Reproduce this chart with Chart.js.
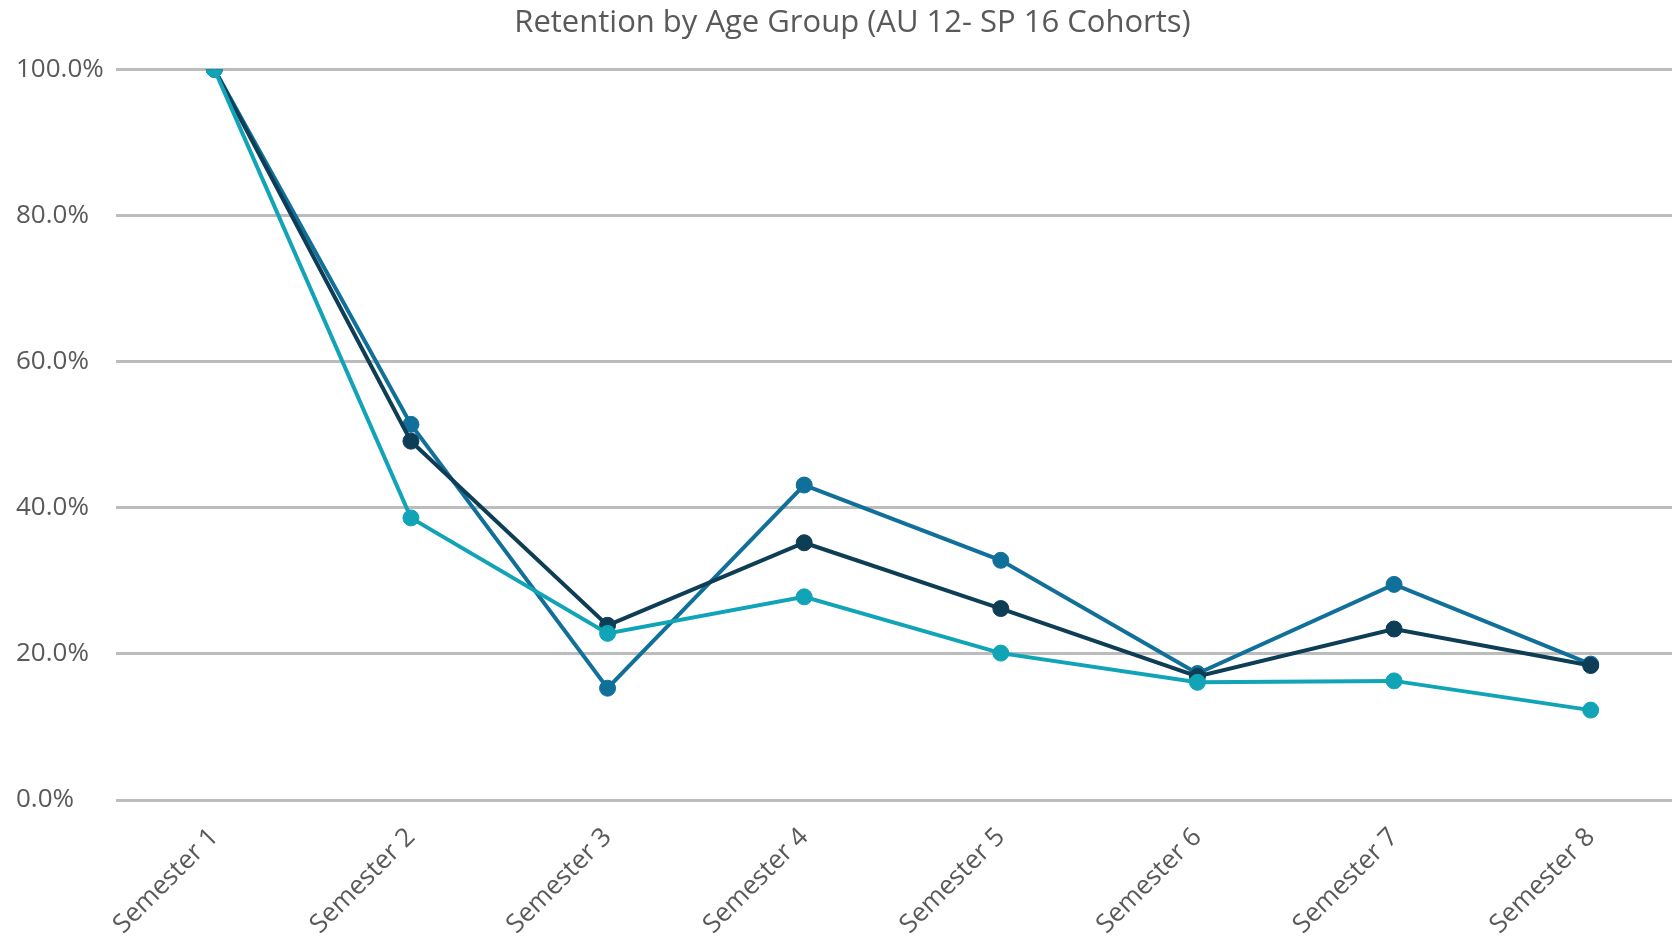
<!DOCTYPE html>
<html>
<head>
<meta charset="utf-8">
<script src="https://cdn.jsdelivr.net/npm/chart.js@4/dist/chart.umd.min.js"></script>
<style>
  html, body { margin: 0; padding: 0; background: #ffffff; overflow: hidden; }
  #wrap { position: absolute; left: 0; top: 0; width: 1706px; height: 936px; }
</style>
</head>
<body>
<div id="wrap"><canvas id="c" width="1706" height="936"></canvas></div>
<script>
const titleText = "Retention by Age Group (AU 12- SP 16 Cohorts)";
const categories = ["Semester 1", "Semester 2", "Semester 3", "Semester 4", "Semester 5", "Semester 6", "Semester 7", "Semester 8"];
const seriesNames = ["Age Group 1", "Age Group 2", "Age Group 3"];
const seriesNavy = [100, 49.1, 23.9, 35.2, 26.2, 16.9, 23.4, 18.4];
const seriesBlue = [100, 51.4, 15.3, 43.1, 32.8, 17.3, 29.5, 18.6];
const seriesTeal = [100, 38.6, 22.8, 27.8, 20.1, 16.1, 16.3, 12.3];
const yTicks = [0, 20, 40, 60, 80, 100];

const colNavy = "#0e3d56";
const colBlue = "#10709a";
const colTeal = "#11a4b7";
const textCol = "#595959";

function ds(label, data, color, order) {
  return {
    label: label, data: data, borderColor: color, backgroundColor: color,
    pointBackgroundColor: color, pointBorderColor: color,
    borderWidth: 4, pointRadius: 8, pointHoverRadius: 8, pointBorderWidth: 1,
    tension: 0, fill: false, order: order
  };
}

new Chart(document.getElementById("c"), {
  type: "line",
  data: {
    labels: categories,
    datasets: [
      ds(seriesNames[0], seriesNavy, colNavy, 1),
      ds(seriesNames[1], seriesBlue, colBlue, 2),
      ds(seriesNames[2], seriesTeal, colTeal, 0)
    ]
  },
  options: {
    responsive: false,
    animation: false,
    devicePixelRatio: 1,
    layout: { padding: { left: 16, right: 17, top: 0, bottom: 0 } },
    plugins: {
      legend: { display: false },
      tooltip: { enabled: false },
      title: {
        display: true, text: titleText, color: textCol,
        font: { family: "'Open Sans'", size: 31, weight: "normal" },
        padding: { top: 5, bottom: 27 }
      }
    },
    scales: {
      x: {
        offset: true,
        afterFit: (axis) => { axis.height = 136; },
        grid: { display: false, drawTicks: false },
        border: { display: false },
        ticks: {
          color: textCol, maxRotation: 45, minRotation: 45, padding: 22,
          font: { family: "'Open Sans'", size: 26 }
        }
      },
      y: {
        min: 0, max: 100,
        afterBuildTicks: (axis) => { axis.ticks = yTicks.map(v => ({ value: v })); },
        afterFit: (axis) => { axis.width = 100; },
        grid: { color: "#bcbcbc", lineWidth: 3, drawTicks: false },
        border: { display: false },
        ticks: {
          color: textCol, crossAlign: "far", padding: 12,
          font: { family: "'Open Sans'", size: 26 },
          callback: (v) => v.toFixed(1) + "%"
        }
      }
    }
  }
});
</script>
</body>
</html>
